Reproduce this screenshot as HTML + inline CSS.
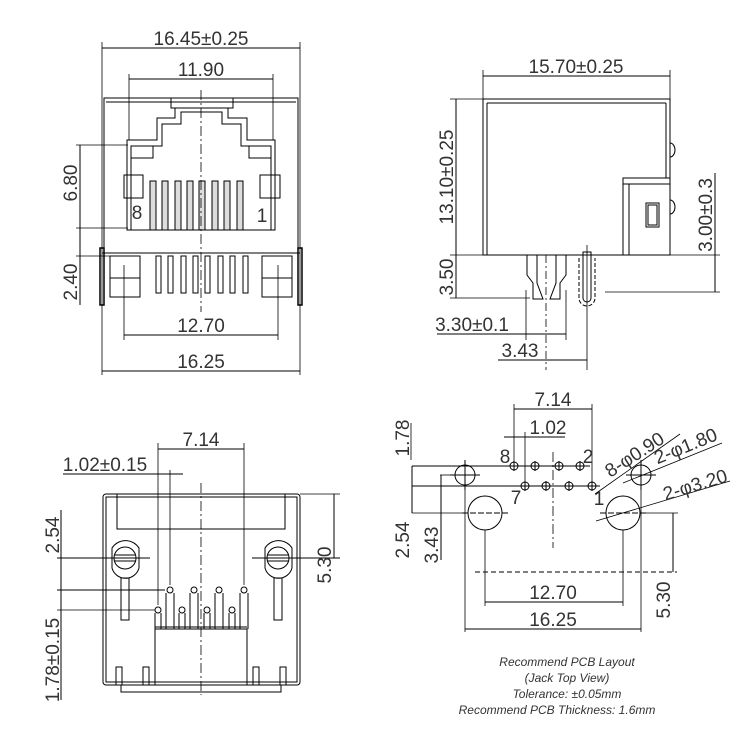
<!DOCTYPE html>
<html><head><style>
html,body{margin:0;padding:0;background:#fff}
svg{display:block}
text{font-family:"Liberation Sans",sans-serif;fill:#333}
.d{font-size:19px}
.c{font-size:12px;font-style:italic}
</style></head><body>
<svg width="750" height="750" viewBox="0 0 750 750" stroke="#000" fill="none" stroke-width="1">
<!-- ===== TOP LEFT ===== -->
<g>
<line x1="102" y1="42" x2="102" y2="300" stroke-width="0.8"/>
<line x1="300" y1="42" x2="300" y2="300" stroke-width="0.8"/>
<line x1="102" y1="48" x2="300" y2="48"/>
<text class="d" x="201" y="45" text-anchor="middle" stroke="none">16.45±0.25</text>
<line x1="129" y1="74" x2="129" y2="140" stroke-width="0.8"/>
<line x1="273" y1="74" x2="273" y2="140" stroke-width="0.8"/>
<line x1="129" y1="79" x2="273" y2="79"/>
<text class="d" x="201" y="76" text-anchor="middle" stroke="none">11.90</text>
<rect x="104" y="98" width="194" height="155"/>
<line x1="106" y1="102" x2="296" y2="102"/>
<polygon points="127,230 127,140 157,140 157,118 175,118 175,108 228,108 228,118 247,118 247,140 275,140 275,230"/>
<polyline points="131,230 131,146 162,146 162,124 181,124 181,112 222,112 222,124 241,124 241,146 271,146 271,230"/>
<rect x="171" y="98" width="62" height="10"/>
<rect x="131" y="146" width="22" height="12"/>
<rect x="249" y="146" width="22" height="12"/>
<rect x="124" y="175" width="19" height="23"/>
<rect x="260" y="175" width="20" height="23"/>
<g fill="#ddd">
<rect x="150" y="181" width="6" height="49"/><rect x="162" y="181" width="6" height="49"/>
<rect x="175" y="181" width="6" height="49"/><rect x="187" y="181" width="6" height="49"/>
<rect x="199" y="181" width="6" height="49"/><rect x="212" y="181" width="6" height="49"/>
<rect x="224" y="181" width="6" height="49"/><rect x="237" y="181" width="6" height="49"/>
</g>
<text class="d" x="137" y="219" text-anchor="middle" stroke="none">8</text>
<text class="d" x="262" y="222" text-anchor="middle" stroke="none">1</text>
<line x1="201" y1="90" x2="201" y2="312" stroke-dasharray="10,3,2,3" stroke-width="0.8"/>
<line x1="102" y1="253" x2="300" y2="253"/>
<rect x="110" y="256" width="30" height="41"/><line x1="110" y1="278" x2="140" y2="278"/>
<rect x="262" y="256" width="30" height="41"/><line x1="262" y1="278" x2="292" y2="278"/>
<g><rect x="156" y="256" width="5" height="37"/><rect x="168" y="256" width="5" height="37"/>
<rect x="181" y="256" width="5" height="37"/><rect x="193" y="256" width="5" height="37"/>
<rect x="205" y="256" width="5" height="37"/><rect x="218" y="256" width="5" height="37"/>
<rect x="230" y="256" width="5" height="37"/><rect x="243" y="256" width="5" height="37"/></g>
<rect x="100" y="248" width="4" height="57" stroke-width="1.5"/>
<rect x="298" y="248" width="4" height="57" stroke-width="1.5"/>
<line x1="76" y1="145" x2="128" y2="145" stroke-width="0.8"/>
<line x1="76" y1="228" x2="128" y2="228" stroke-width="0.8"/>
<line x1="76" y1="256" x2="128" y2="256" stroke-width="0.8"/>
<line x1="80" y1="145" x2="80" y2="305"/>
<text class="d" transform="translate(77,183) rotate(-90)" text-anchor="middle" stroke="none">6.80</text>
<text class="d" transform="translate(77,282) rotate(-90)" text-anchor="middle" stroke="none">2.40</text>
<line x1="124" y1="265" x2="124" y2="340" stroke-width="0.8"/>
<line x1="278" y1="265" x2="278" y2="340" stroke-width="0.8"/>
<line x1="124" y1="335" x2="278" y2="335"/>
<text class="d" x="201" y="332" text-anchor="middle" stroke="none">12.70</text>
<line x1="102" y1="371" x2="300" y2="371"/>
<text class="d" x="201" y="368" text-anchor="middle" stroke="none">16.25</text>
<line x1="102" y1="300" x2="102" y2="375" stroke-width="0.8"/>
<line x1="300" y1="300" x2="300" y2="375" stroke-width="0.8"/>
</g>
<!-- ===== TOP RIGHT ===== -->
<g>
<line x1="483" y1="70" x2="483" y2="99" stroke-width="0.8"/>
<line x1="670" y1="70" x2="670" y2="99" stroke-width="0.8"/>
<line x1="483" y1="76" x2="670" y2="76"/>
<text class="d" x="576" y="73" text-anchor="middle" stroke="none">15.70±0.25</text>
<rect x="483" y="99" width="187" height="156"/>
<line x1="487" y1="103" x2="666" y2="103"/>
<line x1="487" y1="103" x2="487" y2="255"/>
<line x1="666" y1="103" x2="666" y2="178"/>
<path d="M670,143 a5,7 0 0 1 0,14"/><path d="M670,200 a5,7 0 0 1 0,14"/>
<rect x="623" y="178" width="47" height="77"/>
<line x1="623" y1="184" x2="670" y2="184"/>
<line x1="629" y1="184" x2="629" y2="255"/>
<rect x="646" y="203" width="13" height="24"/><rect x="648" y="205" width="9" height="20"/>
<line x1="450" y1="99" x2="483" y2="99" stroke-width="0.8"/>
<line x1="456" y1="99" x2="456" y2="298"/>
<line x1="450" y1="255" x2="720" y2="255" stroke-width="0.8"/>
<line x1="450" y1="298" x2="530" y2="298" stroke-width="0.8"/>
<text class="d" transform="translate(453,177) rotate(-90)" text-anchor="middle" stroke="none">13.10±0.25</text>
<text class="d" transform="translate(453,277) rotate(-90)" text-anchor="middle" stroke="none">3.50</text>
<line x1="715" y1="173" x2="715" y2="292"/>
<line x1="605" y1="292" x2="720" y2="292" stroke-width="0.8"/>
<text class="d" transform="translate(712,215) rotate(-90)" text-anchor="middle" stroke="none">3.00±0.3</text>
<path d="M527,255 v20 l6,8 v16 h10 l-6,-16 v-28"/>
<path d="M566,255 v20 l-6,8 v16 h-10 l6,-16 v-28"/>
<line x1="546" y1="255" x2="546" y2="370" stroke-dasharray="8,3,2,3" stroke-width="0.8"/>
<path d="M583,252 v46 a4,4 0 0 0 8,0 v-46 z"/>
<path d="M579,258 v40 a8,8 0 0 0 16,0 v-40" stroke-dasharray="4,2"/>
<line x1="587" y1="245" x2="587" y2="370" stroke-width="0.8"/>
<line x1="526" y1="290" x2="526" y2="340" stroke-width="0.8"/>
<line x1="566" y1="290" x2="566" y2="340" stroke-width="0.8"/>
<line x1="437" y1="334" x2="566" y2="334"/>
<text class="d" x="472" y="331" text-anchor="middle" stroke="none">3.30±0.1</text>
<line x1="498" y1="360" x2="587" y2="360"/>
<text class="d" x="520" y="357" text-anchor="middle" stroke="none">3.43</text>
</g>
<!-- ===== BOTTOM LEFT ===== -->
<g>
<line x1="158" y1="443" x2="158" y2="605" stroke-width="0.8"/>
<line x1="244" y1="443" x2="244" y2="585" stroke-width="0.8"/>
<line x1="158" y1="449" x2="244" y2="449"/>
<text class="d" x="201" y="446" text-anchor="middle" stroke="none">7.14</text>
<line x1="170" y1="470" x2="170" y2="585" stroke-width="0.8"/>
<line x1="63" y1="474" x2="183" y2="474"/>
<text class="d" x="105" y="471" text-anchor="middle" stroke="none">1.02±0.15</text>
<rect x="103" y="494" width="197" height="191" rx="3"/>
<rect x="106" y="497" width="191" height="185"/>
<rect x="117" y="494" width="168" height="35"/>
<line x1="201" y1="483" x2="201" y2="695" stroke-dasharray="10,3,2,3" stroke-width="0.8"/>
<path d="M112,548 a16,16 0 0 1 27,0 v20 a14,14 0 0 1 -27,0 z"/>
<circle cx="125" cy="558" r="11"/><line x1="114" y1="555" x2="136" y2="555"/><line x1="114" y1="561" x2="136" y2="561"/>
<path d="M265,548 a16,16 0 0 1 27,0 v20 a14,14 0 0 1 -27,0 z"/>
<circle cx="278" cy="558" r="11"/><line x1="267" y1="555" x2="289" y2="555"/><line x1="267" y1="561" x2="289" y2="561"/>
<rect x="121" y="578" width="8" height="42"/><rect x="274" y="578" width="8" height="42"/>
<line x1="57" y1="558" x2="150" y2="558"/><line x1="252" y1="558" x2="340" y2="558"/>
<line x1="57" y1="590" x2="165" y2="590"/><line x1="57" y1="610" x2="155" y2="610" stroke-width="0.8"/>
<g>
<circle cx="170" cy="590" r="3"/><circle cx="194" cy="590" r="3"/><circle cx="219" cy="590" r="3"/><circle cx="244" cy="590" r="3"/>
<circle cx="158" cy="610" r="3"/><circle cx="182" cy="610" r="3"/><circle cx="207" cy="610" r="3"/><circle cx="232" cy="610" r="3"/>
<path d="M166,629 v-36 M174,629 v-36 M190,629 v-36 M198,629 v-36 M215,629 v-36 M223,629 v-36 M240,629 v-36 M248,629 v-36"/>
<path d="M155,629 v-16 M161,629 v-16 M179,629 v-16 M185,629 v-16 M204,629 v-16 M210,629 v-16 M229,629 v-16 M235,629 v-16"/>
</g>
<rect x="155" y="629" width="92" height="56"/>
<line x1="155" y1="627" x2="247" y2="627"/>
<rect x="116" y="667" width="6" height="18"/><rect x="143" y="667" width="6" height="18"/>
<rect x="253" y="667" width="6" height="18"/><rect x="280" y="667" width="6" height="18"/>
<path d="M121,685 v7 h160 v-7"/>
<line x1="61" y1="510" x2="61" y2="700"/>
<text class="d" transform="translate(59,535) rotate(-90)" text-anchor="middle" stroke="none">2.54</text>
<text class="d" transform="translate(59,660) rotate(-90)" text-anchor="middle" stroke="none">1.78±0.15</text>
<line x1="300" y1="494" x2="340" y2="494" stroke-width="0.8"/>
<line x1="334" y1="494" x2="334" y2="558"/>
<text class="d" transform="translate(331,565) rotate(-90)" text-anchor="middle" stroke="none">5.30</text>
</g>
<!-- ===== BOTTOM RIGHT ===== -->
<g>
<line x1="514" y1="404" x2="514" y2="470" stroke-width="0.8"/>
<line x1="592" y1="404" x2="592" y2="490" stroke-width="0.8"/>
<line x1="514" y1="409" x2="592" y2="409"/>
<text class="d" x="553" y="406" text-anchor="middle" stroke="none">7.14</text>
<line x1="525" y1="432" x2="525" y2="490" stroke-width="0.8"/>
<line x1="504" y1="437" x2="565" y2="437"/>
<text class="d" x="548" y="434" text-anchor="middle" stroke="none">1.02</text>
<line x1="412" y1="466" x2="590" y2="466"/>
<line x1="412" y1="486" x2="600" y2="486"/>
<g>
<circle cx="514" cy="466" r="4"/><circle cx="535" cy="466" r="4"/><circle cx="559" cy="466" r="4"/><circle cx="580" cy="466" r="4"/>
<circle cx="525" cy="486" r="4"/><circle cx="546" cy="486" r="4"/><circle cx="569" cy="486" r="4"/><circle cx="592" cy="486" r="4"/>
<path d="M514,461 v10 M535,461 v10 M559,461 v10 M580,461 v10 M525,481 v10 M546,481 v10 M569,481 v10 M592,481 v10"/>
</g>
<text class="d" x="505" y="463" text-anchor="middle" stroke="none">8</text>
<text class="d" x="588" y="463" text-anchor="middle" stroke="none">2</text>
<text class="d" x="516" y="504" text-anchor="middle" stroke="none">7</text>
<text class="d" x="599" y="505" text-anchor="middle" stroke="none">1</text>
<line x1="553" y1="452" x2="553" y2="548" stroke-dasharray="10,3,2,3" stroke-width="0.8"/>
<circle cx="465" cy="475" r="10"/><line x1="450" y1="475" x2="480" y2="475"/><line x1="465" y1="460" x2="465" y2="490"/>
<circle cx="641" cy="475" r="10"/><line x1="626" y1="475" x2="656" y2="475"/><line x1="641" y1="460" x2="641" y2="490"/>
<circle cx="485" cy="513" r="17"/><circle cx="623" cy="513" r="17"/>
<line x1="462" y1="513" x2="508" y2="513" stroke-dasharray="6,2"/><line x1="600" y1="513" x2="646" y2="513" stroke-dasharray="6,2"/>
<line x1="412" y1="513" x2="462" y2="513" stroke-width="0.8"/>
<line x1="646" y1="513" x2="678" y2="513" stroke-width="0.8"/>
<line x1="440" y1="475" x2="450" y2="475" stroke-width="0.8"/>
<line x1="412" y1="466" x2="412" y2="513"/>
<line x1="441" y1="475" x2="441" y2="560"/>
<line x1="411" y1="423" x2="411" y2="460" stroke-width="0.8"/>
<text class="d" transform="translate(409,438) rotate(-90)" text-anchor="middle" stroke="none">1.78</text>
<text class="d" transform="translate(409,540) rotate(-90)" text-anchor="middle" stroke="none">2.54</text>
<text class="d" transform="translate(438,545) rotate(-90)" text-anchor="middle" stroke="none">3.43</text>
<line x1="595" y1="494" x2="680" y2="434" stroke-width="0.8"/>
<text class="d" transform="translate(638,460) rotate(-33)" text-anchor="middle" stroke="none">8-φ0.90</text>
<line x1="623" y1="483" x2="722" y2="443" stroke-width="0.8"/>
<text class="d" transform="translate(688,452) rotate(-22)" text-anchor="middle" stroke="none">2-φ1.80</text>
<line x1="596" y1="521" x2="730" y2="481" stroke-width="0.8"/>
<text class="d" transform="translate(697,491) rotate(-17)" text-anchor="middle" stroke="none">2-φ3.20</text>
<line x1="475" y1="572" x2="677" y2="572" stroke-dasharray="5,3"/>
<line x1="673" y1="513" x2="673" y2="572"/>
<text class="d" transform="translate(670,600) rotate(-90)" text-anchor="middle" stroke="none">5.30</text>
<line x1="465" y1="487" x2="465" y2="632" stroke-width="0.8"/>
<line x1="641" y1="487" x2="641" y2="632" stroke-width="0.8"/>
<line x1="485" y1="530" x2="485" y2="606" stroke-width="0.8"/>
<line x1="623" y1="530" x2="623" y2="606" stroke-width="0.8"/>
<line x1="485" y1="602" x2="623" y2="602"/>
<text class="d" x="553" y="599" text-anchor="middle" stroke="none">12.70</text>
<line x1="465" y1="629" x2="641" y2="629"/>
<text class="d" x="553" y="626" text-anchor="middle" stroke="none">16.25</text>
</g>
<g stroke="none">
<text class="c" x="567" y="666" text-anchor="middle">Recommend PCB Layout</text>
<text class="c" x="567" y="682" text-anchor="middle">(Jack Top View)</text>
<text class="c" x="567" y="698" text-anchor="middle">Tolerance: ±0.05mm</text>
<text class="c" x="557" y="714" text-anchor="middle">Recommend PCB Thickness: 1.6mm</text>
</g>
</svg>
</body></html>
